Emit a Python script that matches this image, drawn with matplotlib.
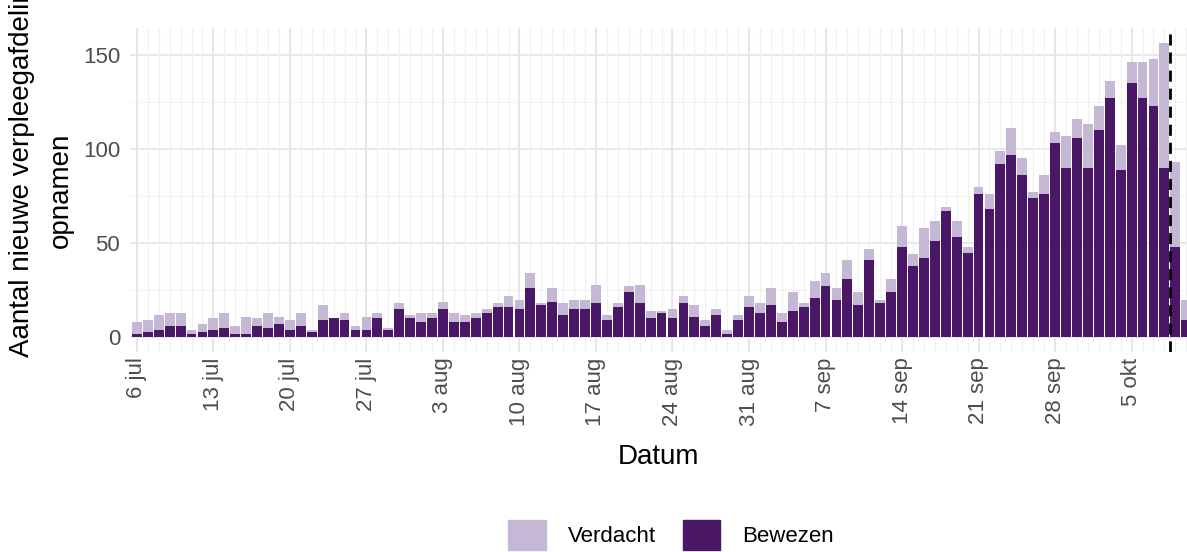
import numpy as np
import pandas as pd
import matplotlib
matplotlib.use("Agg")
import matplotlib.pyplot as plt
import matplotlib.dates as mdates
from matplotlib.patches import Patch

plt.rcParams['font.family'] = ['Liberation Sans', 'DejaVu Sans']

# dagelijkse opnames vanaf 6 jul 2020
start_datum = "2020-07-06"
bewezen = [2, 3, 4, 6, 6, 2, 3, 4, 5, 2, 2, 6, 5, 7, 4, 6,
           3, 9, 10, 9, 4, 4, 10, 4, 15, 10, 8, 10, 15, 8, 8, 10,
           13, 16, 16, 15, 26, 17, 19, 12, 15, 15, 18, 9, 16, 24, 18,
           10, 13, 10, 18, 11, 6, 12, 2, 9, 16, 13, 17, 8, 14, 16, 21,
           27, 20, 31, 17, 41, 18, 24, 48, 38, 42, 51, 67, 53, 45, 76,
           68, 92, 97, 86, 74, 76, 103, 90, 106, 90, 110, 127, 89, 135,
           127, 123, 90, 48, 9]
totaal = [8, 9, 12, 13, 13, 4, 7, 10, 13, 6, 11, 10, 13, 11, 9, 13,
          4, 17, 10, 13, 6, 11, 13, 5, 18, 12, 13, 13, 19, 13, 12, 13,
          15, 18, 22, 20, 34, 18, 26, 18, 20, 20, 28, 12, 18, 27, 28,
          14, 14, 15, 22, 17, 9, 15, 4, 12, 22, 18, 26, 13, 24, 18, 30,
          34, 26, 41, 24, 47, 20, 31, 59, 44, 58, 62, 69, 62, 48, 80,
          76, 99, 111, 95, 77, 86, 109, 107, 116, 113, 123, 136, 102, 146,
          146, 148, 156, 93, 20]
verdacht = [t - b for t, b in zip(totaal, bewezen)]

tick_datums = ["2020-07-06", "2020-07-13", "2020-07-20", "2020-07-27",
               "2020-08-03", "2020-08-10", "2020-08-17", "2020-08-24",
               "2020-08-31", "2020-09-07", "2020-09-14", "2020-09-21",
               "2020-09-28", "2020-10-05"]
tick_labels = ["6 jul", "13 jul", "20 jul", "27 jul", "3 aug", "10 aug",
               "17 aug", "24 aug", "31 aug", "7 sep", "14 sep", "21 sep",
               "28 sep", "5 okt"]
grens_datum = "2020-10-08 12:00"

kleur_bewezen = "#4a1766"
kleur_verdacht = "#c5b8d5"

datums = mdates.date2num(pd.date_range(start_datum, periods=len(bewezen)))
ticks = mdates.date2num(pd.to_datetime(tick_datums))

fig = plt.figure(figsize=(11.87, 5.52), dpi=100)
ax = fig.add_axes([130/1187, 200/552, 1 - 130/1187, 324/552])

# grid
for y in [25, 75, 125]:
    ax.axhline(y, color="#f2f2f2", lw=0.8, zorder=0)
for y in [0, 50, 100, 150]:
    ax.axhline(y, color="#e6e6e6", lw=1.3, zorder=0)
for d in datums:
    ax.axvline(d, color="#f0f0f0", lw=0.9, zorder=0)
for d in ticks:
    ax.axvline(d, color="#e6e6e6", lw=1.3, zorder=0)

ax.bar(datums, bewezen, width=0.9, color=kleur_bewezen, zorder=2)
ax.bar(datums, verdacht, bottom=bewezen, width=0.9, color=kleur_verdacht, zorder=2)
ax.axvline(mdates.datestr2num(grens_datum), color="black", lw=2,
           ls=(0, (4, 2.5)), zorder=3)

ax.set_xlim(datums[0] - 0.63, datums[0] + 96.07)
ax.set_ylim(-7.8, 164.2)
ax.set_xticks(ticks)
ax.set_xticklabels(tick_labels, rotation=90, fontsize=16, color="#4d4d4d")
ax.set_yticks([0, 50, 100, 150])
ax.set_yticklabels(["0", "50", "100", "150"], fontsize=16, color="#4d4d4d")
ax.tick_params(axis="x", length=0, pad=4)
ax.tick_params(axis="y", length=0, pad=7)
for s in ax.spines.values():
    s.set_visible(False)

ax.set_xlabel("Datum", fontsize=20, labelpad=13)

fig.text(22/1187, (552-357)/552, "Aantal nieuwe verpleegafdeling", rotation=90,
         fontsize=20, ha="center", va="bottom")
fig.text(61/1187, (552-190)/552, "opnamen", rotation=90,
         fontsize=20, ha="center", va="center")

handles = [Patch(color=kleur_verdacht, label="Verdacht"),
           Patch(color=kleur_bewezen, label="Bewezen")]
fig.legend(handles=handles, loc="center", ncol=2, frameon=False,
           bbox_to_anchor=(671/1187, 17/552), fontsize=16,
           handlelength=1.7, handleheight=1.7, handletextpad=1.0,
           columnspacing=1.2)

fig.savefig("out.png", dpi=100)
